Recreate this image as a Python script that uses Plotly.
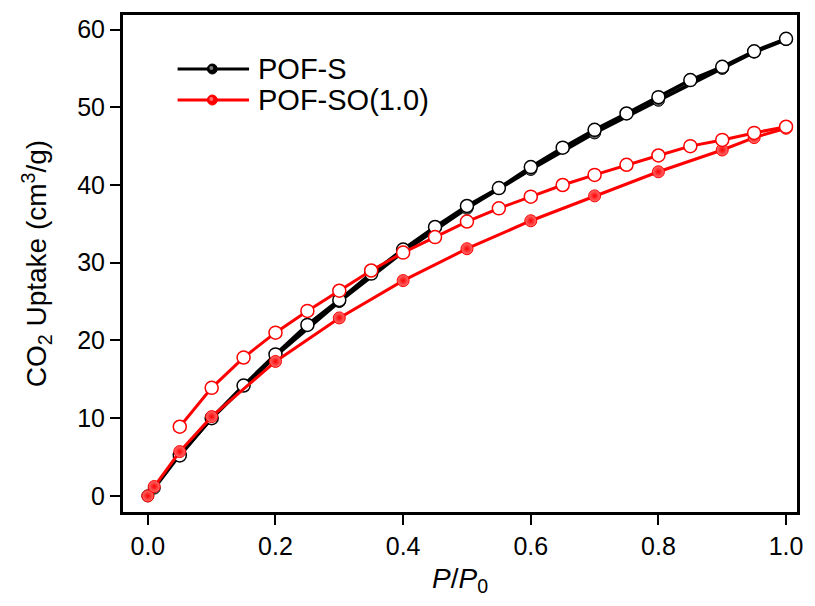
import plotly.graph_objects as go

# POF-S
pofs_ads_x = [0.0, 0.01, 0.05, 0.1, 0.2, 0.3, 0.4, 0.5, 0.6, 0.7, 0.8, 0.9, 0.95, 1.0]
pofs_ads_y = [0.0, 1.0, 5.3, 10.0, 18.0, 25.0, 31.4, 37.0, 42.0, 46.7, 50.9, 55.0, 57.1, 58.7]
pofs_des_x = [0.05, 0.1, 0.15, 0.2, 0.25, 0.3, 0.35, 0.4, 0.45, 0.5, 0.55, 0.6, 0.65,
              0.7, 0.75, 0.8, 0.85, 0.9, 0.95, 1.0]
pofs_des_y = [5.2, 10.0, 14.2, 18.2, 22.0, 25.2, 28.6, 31.7, 34.6, 37.3, 39.6, 42.3, 44.8,
              47.1, 49.2, 51.3, 53.5, 55.2, 57.2, 58.8]

# POF-SO(1.0)
pofso_ads_x = [0.0, 0.01, 0.05, 0.1, 0.2, 0.3, 0.4, 0.5, 0.6, 0.7, 0.8, 0.9, 0.95, 1.0]
pofso_ads_y = [0.0, 1.2, 5.7, 10.2, 17.3, 22.9, 27.7, 31.8, 35.4, 38.6, 41.7, 44.5, 46.1, 47.3]
pofso_des_x = [0.05, 0.1, 0.15, 0.2, 0.25, 0.3, 0.35, 0.4, 0.45, 0.5, 0.55, 0.6, 0.65,
               0.7, 0.75, 0.8, 0.85, 0.9, 0.95, 1.0]
pofso_des_y = [8.9, 13.9, 17.8, 21.0, 23.8, 26.4, 29.0, 31.3, 33.3, 35.3, 37.0, 38.5, 40.0,
               41.3, 42.6, 43.8, 45.0, 45.8, 46.7, 47.5]

x_ticks = [0.0, 0.2, 0.4, 0.6, 0.8, 1.0]
y_ticks = [0, 10, 20, 30, 40, 50, 60]

series_names = ["POF-S", "POF-SO(1.0)"]
series_colors = ["black", "#ff0000"]
series_highlights = ["#7a7a7a", "#ff7070"]
series_widths = [3.6, 3]

FONT = "Liberation Sans, Arial, sans-serif"
# page body has an 8px default margin, so the figure is sized to fit inside it
OFF = 8
W, H = 815 - 2 * OFF, 606 - 2 * OFF
PL, PT, PR, PB = 122, 14, 803, 513          # plot frame in page pixels
ML, MT = PL - OFF, PT - OFF
MR, MB = W - (PR - OFF), H - (PB - OFF)
PW, PH = W - ML - MR, H - MT - MB

fig = go.Figure()

def add_pair(ax, ay, dx, dy, color, hl, name, lw):
    fig.add_trace(go.Scatter(
        x=ax, y=ay, mode="lines+markers", name=name, showlegend=False,
        line=dict(color=color, width=lw),
        marker=dict(symbol="circle", size=12, color=hl,
                    gradient=dict(type="radial", color=color),
                    line=dict(color=color, width=1)),
    ))
    fig.add_trace(go.Scatter(
        x=dx, y=dy, mode="lines+markers", name=name, showlegend=False,
        line=dict(color=color, width=lw),
        marker=dict(symbol="circle", size=13, color="white",
                    line=dict(color=color, width=1.5)),
    ))

for (ax, ay, dx, dy), col, hl, nm, lw in zip(
        [(pofs_ads_x, pofs_ads_y, pofs_des_x, pofs_des_y),
         (pofso_ads_x, pofso_ads_y, pofso_des_x, pofso_des_y)],
        series_colors, series_highlights, series_names, series_widths):
    add_pair(ax, ay, dx, dy, col, hl, nm, lw)

axis_common = dict(
    showline=True, linecolor="black", linewidth=2, mirror=True,
    ticks="outside", ticklen=10, tickwidth=2, tickcolor="black",
    showgrid=False, zeroline=False,
    tickfont=dict(family=FONT, size=25, color="black"),
)

fig.update_xaxes(range=[-0.0405, 1.0187], tickvals=x_ticks,
                 ticktext=[f"{v:.1f}" for v in x_ticks],
                 title=dict(text="<i>P</i>/<i>P</i><sub>0</sub>",
                            font=dict(family=FONT, size=28, color="black"), standoff=9),
                 **axis_common)
fig.update_yaxes(range=[-2.2, 62.0], tickvals=y_ticks,
                 title=dict(text="CO<sub>2</sub> Uptake (cm<sup>3</sup>/g)",
                            font=dict(family=FONT, size=28, color="black"), standoff=22),
                 **axis_common)

# frame
shapes = [dict(type="rect", xref="paper", yref="paper", x0=0, y0=0, x1=1, y1=1,
               line=dict(color="black", width=2), fillcolor="rgba(0,0,0,0)", layer="above")]

# manual legend (page pixel positions -> paper coords)
def px(xp):
    return (xp - PL) / PW

def py(yp):
    return (PB - yp) / PH

annotations = []
for i, (nm, col, hl) in enumerate(zip(series_names, series_colors, series_highlights)):
    yc = 69 + 31 * i
    shapes.append(dict(type="line", xref="paper", yref="paper",
                       x0=px(178), x1=px(250), y0=py(yc), y1=py(yc),
                       line=dict(color=col, width=3), layer="above"))
    shapes.append(dict(type="circle", xref="paper", yref="paper",
                       x0=px(208), x1=px(218), y0=py(yc + 5), y1=py(yc - 5),
                       line=dict(color=col, width=1), fillcolor=col, layer="above"))
    shapes.append(dict(type="circle", xref="paper", yref="paper",
                       x0=px(210), x1=px(214), y0=py(yc + 1), y1=py(yc - 3),
                       line=dict(width=0), fillcolor=hl, layer="above"))
    annotations.append(dict(text=nm, xref="paper", yref="paper", x=px(257), y=py(yc),
                            xanchor="left", yanchor="middle", showarrow=False,
                            font=dict(family=FONT, size=29, color="black")))

fig.update_layout(
    width=W, height=H,
    margin=dict(l=ML, r=MR, t=MT, b=MB),
    paper_bgcolor="white", plot_bgcolor="white",
    showlegend=False,
    shapes=shapes, annotations=annotations,
)

fig.write_html("out.html")
